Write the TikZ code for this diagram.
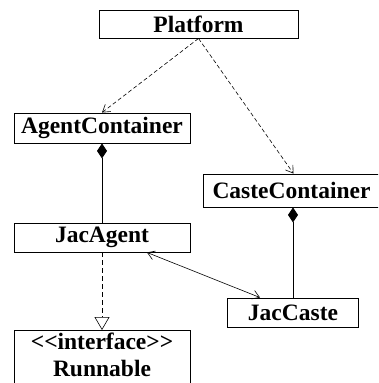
\documentclass[tikz,border=0pt]{standalone}
\usepackage{fontspec}
\setmainfont{Liberation Serif}
\usetikzlibrary{arrows.meta}
\begin{document}
\begin{tikzpicture}[x=1pt,y=-1pt,
  lbl/.style={inner sep=0pt,font=\fontsize{23.5}{26}\selectfont\bfseries},
  cls/.style={lbl,draw,line width=0.9pt,rectangle},
  link/.style={line width=0.6pt},
  depend/.style={link,dashed,dash pattern=on 4pt off 2.5pt,-{Straight Barb[length=7pt,width=9pt]}},
  compose/.style={link,line width=0.8pt,{Diamond[length=15pt,width=10pt]}-},
  assoc/.style={link,{Straight Barb[length=7pt,width=9pt]}-{Straight Barb[length=7pt,width=9pt]}},
  realize/.style={link,dashed,dash pattern=on 5pt off 3pt,-{Triangle[open,length=13pt,width=15pt]}}]
\useasboundingbox (0,0) rectangle (378,383);
\clip (0,0) rectangle (378,383);

\node[cls,minimum width=199pt,minimum height=28pt] (P) at (198.5,24) {Platform};
\node[cls,minimum width=176pt,minimum height=30pt] (AC) at (102,128) {AgentContainer};
\node[cls,minimum width=176pt,minimum height=33pt] (CC) at (291.5,190.5) {CasteContainer};
\node[cls,minimum width=176pt,minimum height=29pt] (JA) at (102,237.5) {JacAgent};
\node[cls,minimum width=131pt,minimum height=29pt] (JC) at (293,312.5) {JacCaste};
% interface box, its lower edge runs past the page
\node[cls,minimum width=176pt,minimum height=60pt,anchor=north] (R) at (102,330) {};
\node[lbl,anchor=base] (Rs) at (102,349) {<\kern0pt<\kern0pt{}interface>\kern0pt>};
\node[lbl,anchor=base] (Rn) at (102,376) {Runnable};

\draw[depend] (P.south) -- (AC.north);
\draw[depend] (P.south) -- ([xshift=2pt]CC.north);
\draw[compose] (AC.south) -- (JA.north);
\draw[compose] (JC.north |- CC.south) -- (JC.north);
\draw[assoc] ([xshift=45pt]JA.south) -- ([xshift=-33pt]JC.north);
\draw[realize] (JA.south) -- (R.north);
\end{tikzpicture}
\end{document}
